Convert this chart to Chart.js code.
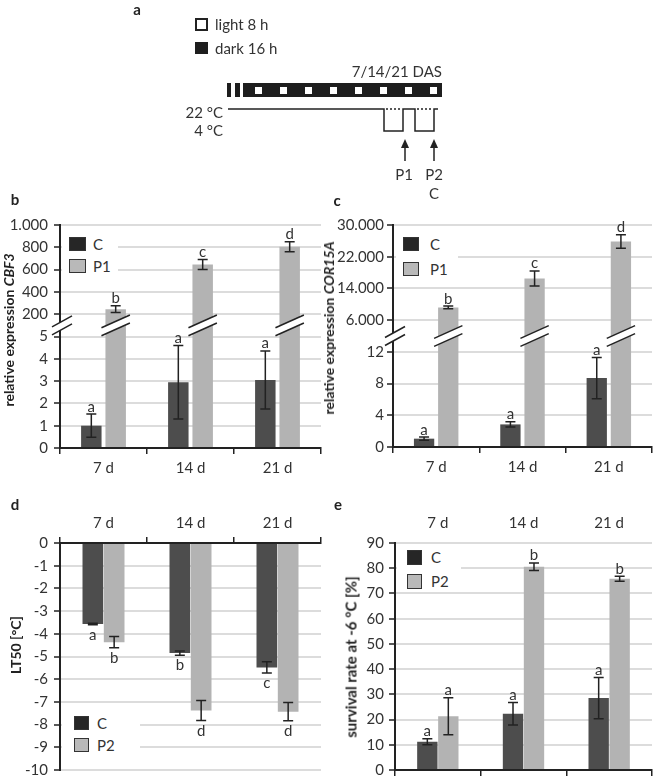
<!DOCTYPE html>
<html lang="en">
<head>
<meta charset="UTF-8">
<title>Cold acclimation: CBF3, COR15A, LT50 and survival</title>
<script src="https://cdn.jsdelivr.net/npm/chart.js@4"></script>
<style>
    html, body {
        margin: 0;
        width: 657px;
        height: 776px;
        overflow: hidden;
        background: #fff;
    }
    body {
        position: relative;
        font-family: Lato, sans-serif;
        font-size: 15px;
        color: #333;
    }
    canvas { position: absolute; }
    .t {
        position: absolute;
        line-height: 1;
        white-space: nowrap;
        transform: translate(-50%, -50%);
    }
    .t.l { transform: translate(0, -50%); }
    .t.r { transform: translate(-100%, -50%); }
    .t.v {
        transform: translate(-50%, -50%) rotate(-90deg);
        font-weight: bold;
        font-size: 14px;
        color: #222;
    }
    .panel { font-weight: bold; color: #222; }
    .legend { position: absolute; background: #fff; }
    .sw {
        position: absolute;
        box-sizing: border-box;
        border: 1px solid #333;
    }
</style>
</head>
<body>
    <!-- panel a: growth schedule -->
    <canvas id="schematic" width="657" height="200" style="left:0;top:0"></canvas>
    <div class="t panel" style="left:137px;top:9px">a</div>
    <div class="t l" style="left:215px;top:24px">light 8 h</div>
    <div class="t l" style="left:215px;top:48px">dark 16 h</div>
    <div class="t r" style="left:442px;top:71px">7/14/21 DAS</div>
    <div class="t r" style="left:223px;top:112px">22 °C</div>
    <div class="t r" style="left:223px;top:130px">4 °C</div>
    <div class="t" style="left:404px;top:174px">P1</div>
    <div class="t" style="left:434px;top:174px">P2</div>
    <div class="t" style="left:434px;top:193px">C</div>

    <!-- charts -->
    <canvas id="chartB" width="330" height="280" style="left:0;top:205px"></canvas>
    <canvas id="chartC" width="335" height="280" style="left:322px;top:205px"></canvas>
    <canvas id="chartD" width="330" height="285" style="left:0;top:505px"></canvas>
    <canvas id="chartE" width="335" height="285" style="left:322px;top:505px"></canvas>

    <div class="t panel" style="left:15px;top:199px">b</div>
    <div class="t panel" style="left:337px;top:200px">c</div>
    <div class="t panel" style="left:15px;top:504px">d</div>
    <div class="t panel" style="left:338px;top:504px">e</div>

    <div class="t v" style="left:9px;top:330px">relative expression <i>CBF3</i></div>
    <div class="t v" style="left:329px;top:328px">relative expression <i>COR15A</i></div>
    <div class="t v" style="left:16px;top:645px">LT50 [°C]</div>
    <div class="t v" style="left:351px;top:657px;font-size:15px">survival rate at -6 °C [%]</div>

    <!-- legends -->
    <div class="legend" style="left:62px;top:231px;width:56px;height:49px"></div>
    <div class="sw" style="left:69px;top:237px;width:17px;height:14px;background:#262626"></div>
    <div class="t l" style="left:93px;top:244px">C</div>
    <div class="sw" style="left:69px;top:259px;width:17px;height:14px;background:#b9b9b9"></div>
    <div class="t l" style="left:93px;top:266px">P1</div>

    <div class="legend" style="left:396px;top:231px;width:62px;height:50px"></div>
    <div class="sw" style="left:403px;top:237px;width:16px;height:14px;background:#262626"></div>
    <div class="t l" style="left:430px;top:244px">C</div>
    <div class="sw" style="left:403px;top:262px;width:16px;height:14px;background:#b9b9b9"></div>
    <div class="t l" style="left:430px;top:269px">P1</div>

    <div class="legend" style="left:62px;top:709px;width:78px;height:52px"></div>
    <div class="sw" style="left:74px;top:716px;width:15px;height:14px;background:#262626"></div>
    <div class="t l" style="left:97px;top:723px">C</div>
    <div class="sw" style="left:74px;top:738px;width:15px;height:14px;background:#b9b9b9"></div>
    <div class="t l" style="left:97px;top:745px">P2</div>

    <div class="legend" style="left:397px;top:546px;width:64px;height:46px"></div>
    <div class="sw" style="left:407px;top:550px;width:15px;height:15px;background:#262626"></div>
    <div class="t l" style="left:431px;top:557px">C</div>
    <div class="sw" style="left:407px;top:574px;width:15px;height:15px;background:#b9b9b9"></div>
    <div class="t l" style="left:431px;top:581px">P2</div>

<script>
    // ---- data ----
    const days = ['7 d', '14 d', '21 d'];

    // b: relative expression CBF3
    const cbf3C = [1.0, 2.95, 3.05];
    const cbf3CErr = [0.52, 1.65, 1.3];
    const cbf3P1 = [245, 645, 805];
    const cbf3P1Err = [30, 45, 45];
    const cbf3LettersC = ['a', 'a', 'a'];
    const cbf3LettersP1 = ['b', 'c', 'd'];
    const cbf3Ticks = ['0', '1', '2', '3', '4', '5', '200', '400', '600', '800', '1.000'];

    // c: relative expression COR15A
    const cor15aC = [1.05, 2.85, 8.7];
    const cor15aCErr = [0.2, 0.33, 2.6];
    const cor15aP1 = [9200, 16500, 25850];
    const cor15aP1Err = [350, 1900, 1700];
    const cor15aLettersC = ['a', 'a', 'a'];
    const cor15aLettersP1 = ['b', 'c', 'd'];
    const cor15aTicks = ['0', '4', '8', '12', '6.000', '14.000', '22.000', '30.000'];

    // d: LT50
    const lt50C = [-3.57, -4.85, -5.48];
    const lt50CErr = [0.03, 0.09, 0.25];
    const lt50P2 = [-4.37, -7.38, -7.43];
    const lt50P2Err = [0.25, 0.44, 0.4];
    const lt50LettersC = ['a', 'b', 'c'];
    const lt50LettersP2 = ['b', 'd', 'd'];

    // e: survival rate at -6 °C
    const survC = [11.2, 22.3, 28.5];
    const survCErr = [1.2, 4.5, 8.2];
    const survP2 = [21.3, 80.6, 75.8];
    const survP2Err = [7.3, 1.5, 1.0];
    const survLettersC = ['a', 'a', 'a'];
    const survLettersP2 = ['a', 'b', 'b'];

    // broken axes: lower part kept linear, upper part compressed
    const mapB = v => v <= 5 ? v : 5 + v / 200;
    const mapC = v => v <= 12 ? v : 16 + (v - 6000) / 2000;

    const INK = '#222';
    const GRID = '#dcdcdc';
    const DARK = '#4d4d4d';
    const LIGHT = '#b3b3b3';

    // ---- panel a schematic ----
    const a = document.getElementById('schematic').getContext('2d');
    a.strokeStyle = INK;
    a.lineWidth = 2;
    a.strokeRect(196, 19, 11, 11);
    a.fillStyle = '#1e1e1e';
    a.fillRect(195, 42, 13, 12);
    a.fillRect(227, 83, 4, 14);
    a.fillRect(235, 83, 5, 14);
    a.fillRect(243, 83, 199, 14);
    a.fillStyle = '#fff';
    for (let i = 0; i < 8; i++) a.fillRect(255 + i * 25, 87, 7, 7);
    a.lineWidth = 1.5;
    a.beginPath();
    a.moveTo(228, 109); a.lineTo(384, 109); a.lineTo(384, 131); a.lineTo(403, 131);
    a.lineTo(403, 109); a.lineTo(415, 109); a.lineTo(415, 131); a.lineTo(434, 131);
    a.lineTo(434, 109); a.lineTo(438, 109);
    a.stroke();
    a.setLineDash([2, 2]);
    a.beginPath();
    a.moveTo(386, 109); a.lineTo(402, 109);
    a.moveTo(417, 109); a.lineTo(433, 109);
    a.stroke();
    a.setLineDash([]);
    [405, 434].forEach(x => {
        a.beginPath(); a.moveTo(x, 161); a.lineTo(x, 145); a.stroke();
        a.beginPath(); a.moveTo(x, 139); a.lineTo(x - 4, 148); a.lineTo(x + 4, 148); a.closePath();
        a.fillStyle = INK; a.fill();
    });

    // ---- plugins ----
    const errorBarPlugin = {
        id: 'errorBars',
        afterDatasetsDraw(chart, args, opts) {
            const ctx = chart.ctx;
            const y = chart.scales.y;
            const map = opts.map;
            ctx.save();
            chart.data.datasets.forEach((ds, di) => {
                chart.getDatasetMeta(di).data.forEach((bar, i) => {
                    const v = ds.values[i], e = ds.errors[i];
                    const p1 = y.getPixelForValue(map(v + e));
                    const p2 = y.getPixelForValue(map(v - e));
                    const top = Math.min(p1, p2), bot = Math.max(p1, p2);
                    ctx.strokeStyle = INK;
                    ctx.lineWidth = 1.5;
                    ctx.beginPath();
                    ctx.moveTo(bar.x, top); ctx.lineTo(bar.x, bot);
                    ctx.moveTo(bar.x - 5, top); ctx.lineTo(bar.x + 5, top);
                    ctx.moveTo(bar.x - 5, bot); ctx.lineTo(bar.x + 5, bot);
                    ctx.stroke();
                    ctx.fillStyle = '#333';
                    ctx.font = '15px Lato, sans-serif';
                    ctx.textAlign = 'center';
                    ctx.textBaseline = 'alphabetic';
                    ctx.fillText(ds.letters[i], bar.x, opts.below ? bot + 15 : top - 2.5);
                });
            });
            ctx.restore();
        }
    };

    const breakPlugin = {
        id: 'axisBreak',
        afterDatasetsDraw(chart, args, opts) {
            if (opts.at == null) return;
            const ctx = chart.ctx;
            const y = chart.scales.y.getPixelForValue(opts.at);
            const spots = chart.getDatasetMeta(1).data.map(b => [b.x, b.width / 2 + 4, 0.45]);
            spots.push([chart.chartArea.left + 2, 10, 0.55]);
            ctx.save();
            spots.forEach(([cx, hw, s]) => {
                const gap = 4;
                ctx.fillStyle = '#fff';
                ctx.beginPath();
                ctx.moveTo(cx - hw, y + gap + hw * s);
                ctx.lineTo(cx + hw, y + gap - hw * s);
                ctx.lineTo(cx + hw, y - gap - hw * s);
                ctx.lineTo(cx - hw, y - gap + hw * s);
                ctx.closePath();
                ctx.fill();
                ctx.strokeStyle = INK;
                ctx.lineWidth = 1.5;
                [-gap, gap].forEach(o => {
                    ctx.beginPath();
                    ctx.moveTo(cx - hw, y + o + hw * s);
                    ctx.lineTo(cx + hw, y + o - hw * s);
                    ctx.stroke();
                });
            });
            ctx.restore();
        }
    };

    Chart.defaults.font.family = 'Lato, sans-serif';
    Chart.defaults.font.size = 15;
    Chart.defaults.color = '#333';

    function makeChart(id, spec) {
        const map = spec.map || (v => v);
        const datasets = spec.series.map(s => ({
            data: s.values.map(map),
            values: s.values,
            errors: s.err,
            letters: s.letters,
            backgroundColor: s.color,
            categoryPercentage: spec.cp,
            barPercentage: spec.bp
        }));
        const yTicks = { stepSize: spec.step, padding: spec.yPad };
        if (spec.tickLabels) yTicks.callback = (v, i) => spec.tickLabels[i];
        const scales = {
            x: {
                position: spec.xPos,
                offset: true,
                ticks: { display: spec.xLabels, padding: 5 },
                grid: { display: true, drawOnChartArea: false, offset: true, tickLength: 6, color: INK, lineWidth: 1.5 },
                border: { color: INK, width: 2 },
                afterFit: s => { s.height = spec.xHeight; }
            },
            y: {
                min: spec.yMin,
                max: spec.yMax,
                ticks: yTicks,
                grid: { color: GRID, lineWidth: 2, tickColor: INK, tickLength: 6, tickWidth: 1.5 },
                border: { color: INK, width: 2 },
                afterFit: s => { s.width = spec.yWidth; }
            }
        };
        if (spec.topLabels) {
            scales.x2 = {
                type: 'category',
                labels: days,
                position: 'top',
                offset: true,
                ticks: { padding: 5 },
                grid: { display: false, tickLength: 6 },
                border: { display: false },
                afterFit: s => { s.height = 30; }
            };
        }
        return new Chart(document.getElementById(id), {
            type: 'bar',
            data: { labels: days, datasets },
            options: {
                responsive: false,
                animation: false,
                devicePixelRatio: 1,
                layout: { padding: spec.padding },
                scales,
                plugins: {
                    legend: { display: false },
                    tooltip: { enabled: false },
                    errorBars: { map, below: spec.below },
                    axisBreak: { at: spec.breakAt }
                }
            },
            plugins: [errorBarPlugin, breakPlugin]
        });
    }

    makeChart('chartB', {
        series: [
            { values: cbf3C, err: cbf3CErr, letters: cbf3LettersC, color: DARK },
            { values: cbf3P1, err: cbf3P1Err, letters: cbf3LettersP1, color: LIGHT }
        ],
        map: mapB, breakAt: 5.5,
        yMin: 0, yMax: 10, step: 1, tickLabels: cbf3Ticks, yPad: 6, yWidth: 60,
        xPos: 'bottom', xLabels: true, xHeight: 30,
        cp: 0.56, bp: 0.84,
        padding: { top: 20, right: 9, bottom: 7, left: 0 }
    });

    makeChart('chartC', {
        series: [
            { values: cor15aC, err: cor15aCErr, letters: cor15aLettersC, color: DARK },
            { values: cor15aP1, err: cor15aP1Err, letters: cor15aLettersP1, color: LIGHT }
        ],
        map: mapC, breakAt: 14,
        yMin: 0, yMax: 28, step: 4, tickLabels: cor15aTicks, yPad: 3, yWidth: 71,
        xPos: 'bottom', xLabels: true, xHeight: 30,
        cp: 0.56, bp: 0.84,
        padding: { top: 20, right: 5, bottom: 8, left: 0 }
    });

    makeChart('chartD', {
        series: [
            { values: lt50C, err: lt50CErr, letters: lt50LettersC, color: DARK },
            { values: lt50P2, err: lt50P2Err, letters: lt50LettersP2, color: LIGHT }
        ],
        below: true,
        yMin: -10, yMax: 0, step: 1, yPad: 6, yWidth: 60,
        xPos: 'top', xLabels: true, xHeight: 30,
        cp: 0.49, bp: 0.97,
        padding: { top: 8, right: 9, bottom: 20, left: 0 }
    });

    makeChart('chartE', {
        series: [
            { values: survC, err: survCErr, letters: survLettersC, color: DARK },
            { values: survP2, err: survP2Err, letters: survLettersP2, color: LIGHT }
        ],
        yMin: 0, yMax: 90, step: 10, yPad: 5, yWidth: 73,
        xPos: 'bottom', xLabels: false, xHeight: 8, topLabels: true,
        cp: 0.49, bp: 0.97,
        padding: { top: 8, right: 5, bottom: 12, left: 0 }
    });
</script>
</body>
</html>
